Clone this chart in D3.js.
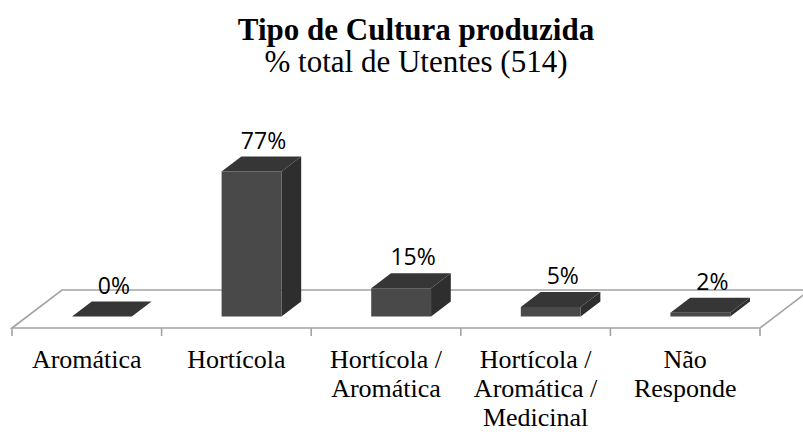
<!DOCTYPE html>
<html>
<head>
<meta charset="utf-8">
<script src="https://cdn.jsdelivr.net/npm/d3@7"></script>
<style>
  html, body { margin: 0; padding: 0; background: #fff; }
  svg { display: block; }
</style>
</head>
<body>
<svg id="chart" width="803" height="432"></svg>
<script>
// ---- data ----
const title = "Tipo de Cultura produzida";
const subtitle = "% total de Utentes (514)";
const categories = ["Aromática", "Hortícola", "Hortícola /\nAromática", "Hortícola /\nAromática /\nMedicinal", "Não\nResponde"];
const values = [0, 77, 15, 5, 2];
const valueLabels = ["0%", "77%", "15%", "5%", "2%"];

// ---- layout ----
const W = 803, H = 432;
const svg = d3.select("#chart");

const floorFrontY = 328;
const floorLeft = 12, floorRight = 760;
const floorDX = 50, floorDY = 38;      // depth vector of the floor
const barDepth0 = 11.5 / 38, barDepth1 = 26.5 / 38;

const x = d3.scaleBand().domain(categories).range([floorLeft, floorRight]).paddingInner(0).paddingOuter(0);
const y = d3.scaleLinear().domain([0, 100]).range([0, 188.3]);
const barW = x.bandwidth() * 0.40;

// projection: (x, depth fraction, height px) -> screen
const P = (px, d, h) => [px + floorDX * d, floorFrontY - floorDY * d - h];

const gridColor = "#a3a3a3";

// Titles
svg.append("text").attr("x", 416).attr("y", 40).attr("text-anchor", "middle")
  .attr("font-family", "'Liberation Serif', 'Times New Roman', serif")
  .attr("font-weight", "bold").attr("font-size", 31).attr("fill", "#000").text(title);
svg.append("text").attr("x", 416).attr("y", 72).attr("text-anchor", "middle")
  .attr("font-family", "'Liberation Serif', 'Times New Roman', serif")
  .attr("font-size", 31).attr("fill", "#000").text(subtitle);

// Floor
const floor = svg.append("g");
const fl = [P(floorLeft, 0, 0), P(floorLeft, 1, 0), P(floorRight, 1, 0), P(floorRight, 0, 0)];
floor.append("path")
  .attr("d", d3.line()(fl) + "Z")
  .attr("fill", "#fff").attr("stroke", gridColor).attr("stroke-width", 1.6);

// ticks on front edge
const tickXs = categories.map(c => x(c)).concat([floorRight]);
floor.selectAll("line.tick").data(tickXs).join("line")
  .attr("class", "tick")
  .attr("x1", d => d).attr("x2", d => d)
  .attr("y1", floorFrontY).attr("y2", floorFrontY + 8)
  .attr("stroke", gridColor).attr("stroke-width", 1.6);

// Bars
const bars = svg.append("g");
categories.forEach((c, i) => {
  const h = y(values[i]);
  const x0 = x(c) + (x.bandwidth() - barW) / 2;
  const x1 = x0 + barW;
  const g = bars.append("g");
  // side face
  g.append("path").attr("d", d3.line()([P(x1, barDepth0, 0), P(x1, barDepth1, 0), P(x1, barDepth1, h), P(x1, barDepth0, h)]) + "Z")
    .attr("fill", "#2e2e2e");
  // front face
  g.append("path").attr("d", d3.line()([P(x0, barDepth0, 0), P(x1, barDepth0, 0), P(x1, barDepth0, h), P(x0, barDepth0, h)]) + "Z")
    .attr("fill", "#494949");
  // top face
  g.append("path").attr("d", d3.line()([P(x0, barDepth0, h), P(x1, barDepth0, h), P(x1, barDepth1, h), P(x0, barDepth1, h)]) + "Z")
    .attr("fill", "#363636");
  // value label
  const fc = (x0 + x1) / 2;
  const top = P(fc, barDepth1, h);
  g.append("text")
    .attr("x", P(fc, barDepth0, 0)[0] + 12)
    .attr("y", top[1] - 8)
    .attr("text-anchor", "middle")
    .attr("font-family", "'Open Sans', sans-serif")
    .attr("font-size", 23).attr("fill", "#000")
    .text(valueLabels[i]);
});

// Category labels
const labels = svg.append("g")
  .attr("font-family", "'Liberation Serif', 'Times New Roman', serif")
  .attr("font-size", 26).attr("fill", "#000").attr("text-anchor", "middle");
categories.forEach(c => {
  const t = labels.append("text").attr("x", x(c) + x.bandwidth() / 2).attr("y", 368);
  c.split("\n").forEach((line, j) => {
    t.append("tspan").attr("x", x(c) + x.bandwidth() / 2).attr("dy", j === 0 ? 0 : 29).text(line);
  });
});
</script>
</body>
</html>
